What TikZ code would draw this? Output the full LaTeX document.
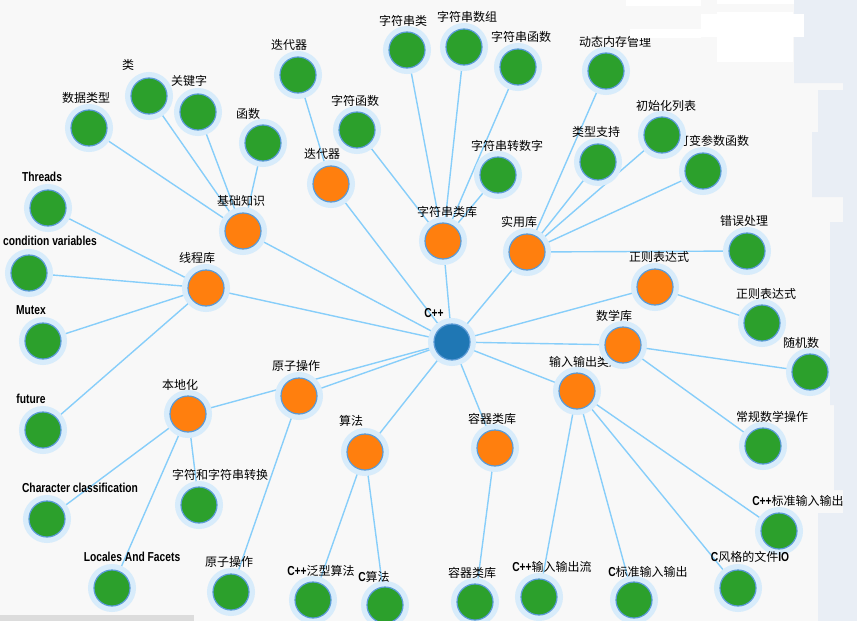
\documentclass[tikz,border=0pt]{standalone}
\usepackage{fontspec}
\newfontfamily\cjk{Noto Sans CJK SC}
\newfontfamily\enfont[FakeStretch=0.79]{Liberation Sans}
\newcommand{\E}[1]{{\enfont\bfseries\fontsize{13}{13}\selectfont #1}}
\definecolor{bgc}{HTML}{F8F8F8}
\definecolor{stripc}{HTML}{E9EEF5}
\definecolor{scrollc}{HTML}{DCDCDC}
\definecolor{edgec}{HTML}{87CEFA}
\definecolor{haloc}{HTML}{D8ECFB}
\definecolor{ringc}{HTML}{5A9AD6}
\definecolor{cblue}{HTML}{1F77B4}
\definecolor{corange}{HTML}{FF7F0E}
\definecolor{cgreen}{HTML}{2CA02C}
\pgfdeclarelayer{bg}
\pgfdeclarelayer{edges}
\pgfdeclarelayer{top}
\pgfsetlayers{bg,edges,main,top}
\newcommand{\mynd}[7]{\node[#2] (#1) at (#3,#4) {}; \node[lab] (#1l) at (#5,#6) {#7};}
\begin{document}
\begin{tikzpicture}[x=1pt,y=-1pt,
  dot/.style={circle, minimum size=36pt, inner sep=0pt, draw=ringc, line width=1.2pt,
    preaction={draw=haloc, line width=12pt}},
  root/.style={dot, fill=cblue},
  mid/.style={dot, fill=corange},
  leaf/.style={dot, fill=cgreen},
  lab/.style={font=\cjk\fontsize{12}{12}\selectfont, inner sep=0pt, text=black},
  link/.style={draw=edgec, line width=1.4pt}]
\useasboundingbox (0,0) rectangle (857,621);
\begin{pgfonlayer}{bg}
  \fill[bgc] (0,0) rectangle (857,621);
  \fill[scrollc] (0,615) rectangle (194,621);
\end{pgfonlayer}

% leaves first, then middle nodes, then root
\mynd{jc1}{leaf}{89}{128}{86}{98}{数据类型}
\mynd{jc2}{leaf}{149}{96}{128}{65}{类}
\mynd{jc3}{leaf}{198}{112}{189}{81}{关键字}
\mynd{jc4}{leaf}{263}{143}{248}{114}{函数}
\mynd{dd1}{leaf}{298}{75}{289}{45}{迭代器}
\mynd{zf1}{leaf}{357}{130}{355}{101}{字符函数}
\mynd{zf2}{leaf}{407}{50}{403}{21}{字符串类}
\mynd{zf3}{leaf}{464}{47}{467}{17}{字符串数组}
\mynd{zf4}{leaf}{518}{67}{521}{37}{字符串函数}
\mynd{zf5}{leaf}{498}{175}{507}{146}{字符串转数字}
\mynd{sy1}{leaf}{606}{71}{615}{42}{动态内存管理}
\mynd{sy2}{leaf}{598}{162}{596}{132}{类型支持}
\mynd{sy4}{leaf}{703}{171}{713}{141}{可变参数函数}
\mynd{sy3}{leaf}{662}{135}{666}{106}{初始化列表}
\mynd{sy5}{leaf}{747}{251}{744}{221}{错误处理}
\mynd{zz1}{leaf}{762}{323}{766}{294}{正则表达式}
\mynd{sx1}{leaf}{810}{372}{801}{343}{随机数}
\mynd{sx2}{leaf}{763}{446}{772}{417}{常规数学操作}
\mynd{io1}{leaf}{779}{531}{798}{501}{\E{C++}标准输入输出}
\mynd{io2}{leaf}{738}{588}{750}{557}{\E{C}风格的文件\E{IO}}
\mynd{io3}{leaf}{634}{600}{648}{572}{\E{C}标准输入输出}
\mynd{io4}{leaf}{539}{597}{552}{567}{\E{C++}输入输出流}
\mynd{rq1}{leaf}{475}{602}{472}{573}{容器类库}
\mynd{sf1}{leaf}{313}{600}{321}{571}{\E{C++}泛型算法}
\mynd{sf2}{leaf}{385}{605}{374}{577}{\E{C}算法}
\mynd{yz1}{leaf}{231}{592}{229}{562}{原子操作}
\mynd{bd1}{leaf}{47}{519}{80}{488}{\E{Character classification}}
\mynd{bd2}{leaf}{112}{588}{132}{557}{\E{Locales And Facets}}
\mynd{bd3}{leaf}{199}{505}{220}{475}{字符和字符串转换}
\mynd{xc1}{leaf}{48}{208}{42}{177}{\E{Threads}}
\mynd{xc2}{leaf}{29}{273}{50}{241}{\E{condition variables}}
\mynd{xc3}{leaf}{43}{341}{31}{310}{\E{Mutex}}
\mynd{xc4}{leaf}{43}{430}{31}{399}{\E{future}}

\mynd{jc}{mid}{243}{231}{241}{201}{基础知识}
\mynd{xc}{mid}{206}{288}{197}{258}{线程库}
\mynd{ddq}{mid}{331}{184}{322}{154}{迭代器}
\mynd{zfc}{mid}{443}{241}{447}{212}{字符串类库}
\mynd{sy}{mid}{527}{252}{519}{222}{实用库}
\mynd{zz}{mid}{655}{287}{659}{257}{正则表达式}
\mynd{io}{mid}{577}{391}{585}{362}{输入输出类库}
\mynd{sx}{mid}{623}{345}{614}{316}{数学库}
\mynd{rq}{mid}{495}{448}{492}{419}{容器类库}
\mynd{sf}{mid}{365}{452}{351}{421}{算法}
\mynd{yz}{mid}{299}{396}{296}{366}{原子操作}
\mynd{bd}{mid}{188}{414}{180}{385}{本地化}

\mynd{cpp}{root}{452}{342}{434}{313}{\E{C++}}

\begin{pgfonlayer}{edges}
  \foreach \m in {jc,xc,ddq,zfc,sy,zz,io,sx,rq,sf,yz,bd}
    \draw[link] (cpp.center) -- (\m.center);
  \foreach \c in {jc1,jc2,jc3,jc4} \draw[link] (jc.center) -- (\c.center);
  \draw[link] (ddq.center) -- (dd1.center);
  \foreach \c in {zf1,zf2,zf3,zf4,zf5} \draw[link] (zfc.center) -- (\c.center);
  \foreach \c in {sy1,sy2,sy3,sy4,sy5} \draw[link] (sy.center) -- (\c.center);
  \draw[link] (zz.center) -- (zz1.center);
  \foreach \c in {sx1,sx2} \draw[link] (sx.center) -- (\c.center);
  \foreach \c in {io1,io2,io3,io4} \draw[link] (io.center) -- (\c.center);
  \draw[link] (rq.center) -- (rq1.center);
  \foreach \c in {sf1,sf2} \draw[link] (sf.center) -- (\c.center);
  \draw[link] (yz.center) -- (yz1.center);
  \foreach \c in {bd1,bd2,bd3} \draw[link] (bd.center) -- (\c.center);
  \foreach \c in {xc1,xc2,xc3,xc4} \draw[link] (xc.center) -- (\c.center);
\end{pgfonlayer}

\begin{pgfonlayer}{top}
  \fill[stripc] (794,0) -- (857,0) -- (857,621) -- (818,621) -- (818,513) -- (843,513)
    -- (843,490) -- (834,490) -- (834,405) -- (830,405) -- (830,222) -- (843,222)
    -- (843,197) -- (812,197) -- (812,132) -- (818,132) -- (818,90) -- (843,90)
    -- (843,83) -- (794,83) -- cycle;
  \fill[white] (626,0) rectangle (701,6);
  \fill[white] (717,0) rectangle (794,4);
  \fill[white] (630,29) rectangle (701,38);
  \fill[white] (701,14) rectangle (804,37);
  \fill[white] (717,12) rectangle (793,62);
\end{pgfonlayer}
\end{tikzpicture}
\end{document}
